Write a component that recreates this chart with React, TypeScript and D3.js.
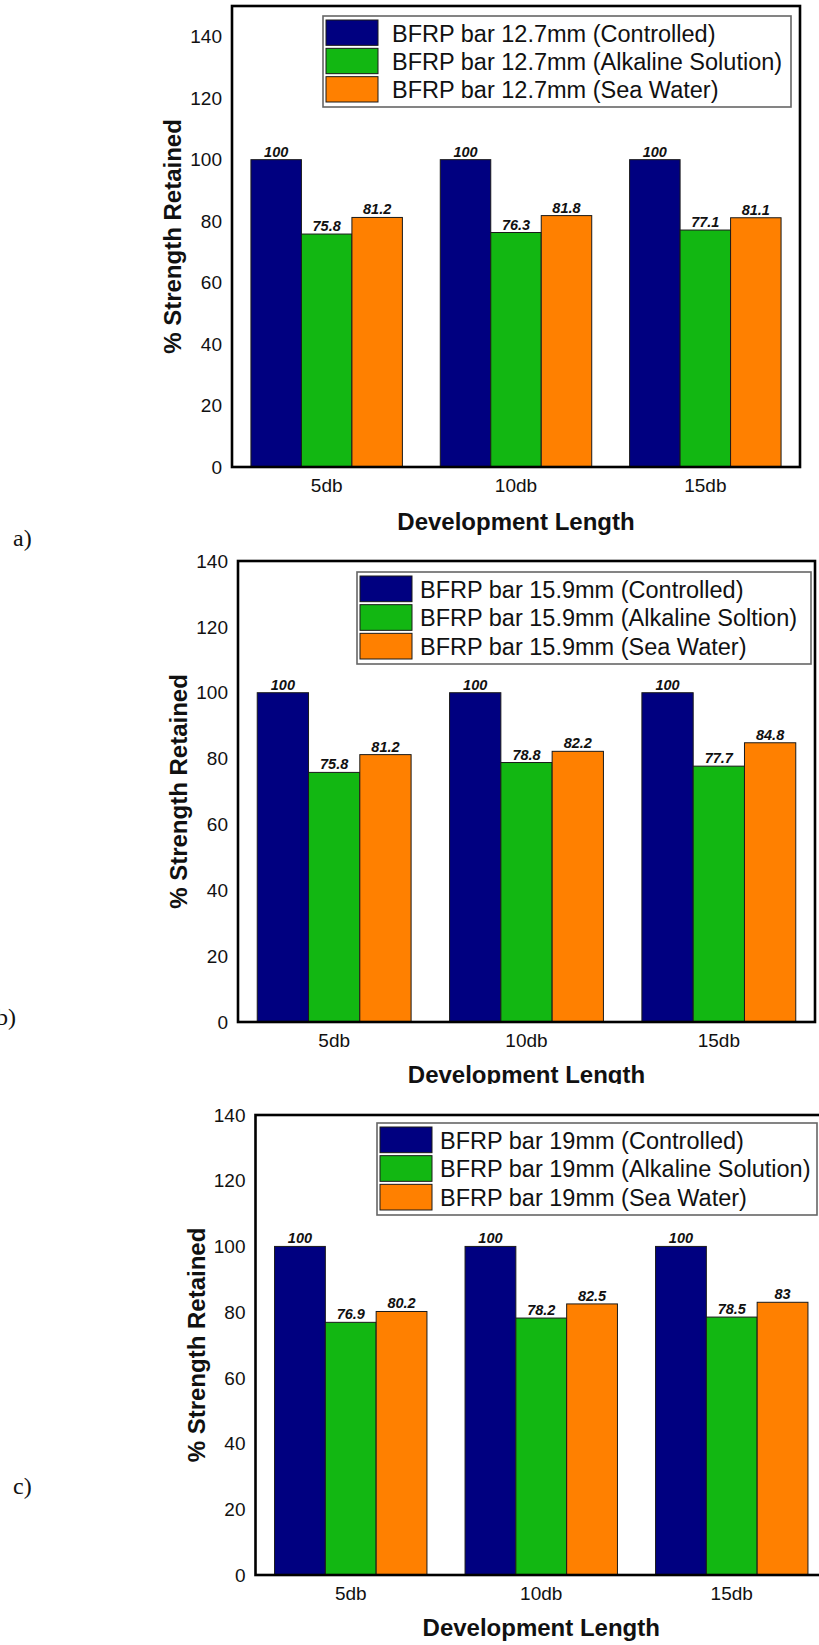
import React from "react";
import * as d3 from "d3";

// Development length groups shared by all three panels
const categories = ["5db", "10db", "15db"];

// Panel a) 12.7 mm bars
const controlledA = [100, 100, 100];
const alkalineA = [75.8, 76.3, 77.1];
const seaA = [81.2, 81.8, 81.1];
const legendA = [
  "BFRP bar 12.7mm (Controlled)",
  "BFRP bar 12.7mm (Alkaline Solution)",
  "BFRP bar 12.7mm (Sea Water)",
];

// Panel b) 15.9 mm bars
const controlledB = [100, 100, 100];
const alkalineB = [75.8, 78.8, 77.7];
const seaB = [81.2, 82.2, 84.8];
const legendB = [
  "BFRP bar 15.9mm (Controlled)",
  "BFRP bar 15.9mm (Alkaline Soltion)",
  "BFRP bar 15.9mm (Sea Water)",
];

// Panel c) 19 mm bars
const controlledC = [100, 100, 100];
const alkalineC = [76.9, 78.2, 78.5];
const seaC = [80.2, 82.5, 83];
const legendC = [
  "BFRP bar 19mm (Controlled)",
  "BFRP bar 19mm (Alkaline Solution)",
  "BFRP bar 19mm (Sea Water)",
];

const yTicks = [0, 20, 40, 60, 80, 100, 120, 140];
const seriesColors = ["#000080", "#12b712", "#ff8000"];

const FONT = "'Liberation Sans', Arial, sans-serif";

type PanelProps = {
  series: number[][];
  legend: string[];
  yMax: number;
  left: number;
  right: number;
  top: number;
  bottom: number;
  legendBox: { x: number; y: number; w: number; h: number; textX: number };
  tag: string;
  tagX: number;
  tagY: number;
  xTitleY: number;
  clipBottom?: number;
};

function Panel(p: PanelProps) {
  const x0 = d3
    .scaleBand<string>()
    .domain(categories)
    .range([p.left, p.right])
    .paddingInner(0.2)
    .paddingOuter(0.1);
  const x1 = d3
    .scaleBand<number>()
    .domain([0, 1, 2])
    .range([0, x0.bandwidth()]);
  const y = d3.scaleLinear().domain([0, p.yMax]).range([p.bottom, p.top]);
  const midX = (p.left + p.right) / 2;
  const midY = (p.top + p.bottom) / 2;
  const rowH = (p.legendBox.h - 6) / 3;
  const clipId = `clip-${p.tag.replace(")", "")}`;

  return (
    <g>
      {/* bars */}
      {categories.map((c, ci) => (
        <g key={c} transform={`translate(${x0(c)},0)`}>
          {p.series.map((vals, si) => {
            const v = vals[ci];
            const bx = x1(si)!;
            return (
              <g key={si}>
                <rect
                  x={bx}
                  y={y(v)}
                  width={x1.bandwidth()}
                  height={y(0) - y(v)}
                  fill={seriesColors[si]}
                  stroke="#1a1a1a"
                  strokeWidth={1}
                />
                <text
                  x={bx + x1.bandwidth() / 2}
                  y={y(v) - 3}
                  textAnchor="middle"
                  fontFamily={FONT}
                  fontWeight="bold"
                  fontStyle="italic"
                  fontSize={14.5}
                  fill="#111"
                >
                  {v}
                </text>
              </g>
            );
          })}
        </g>
      ))}

      {/* frame */}
      <rect
        x={p.left}
        y={p.top}
        width={p.right - p.left}
        height={p.bottom - p.top}
        fill="none"
        stroke="#000"
        strokeWidth={2.6}
      />

      {/* y ticks */}
      {yTicks.map((t) => (
        <text
          key={t}
          x={p.left - 10}
          y={y(t)}
          dy="0.35em"
          textAnchor="end"
          fontFamily={FONT}
          fontSize={19}
          fill="#111"
        >
          {t}
        </text>
      ))}

      {/* x ticks */}
      {categories.map((c) => (
        <text
          key={c}
          x={x0(c)! + x0.bandwidth() / 2}
          y={p.bottom + 18}
          dy="0.35em"
          textAnchor="middle"
          fontFamily={FONT}
          fontSize={19}
          fill="#111"
        >
          {c}
        </text>
      ))}

      {/* axis titles */}
      <text
        transform={`translate(${p.left - 59},${midY}) rotate(-90)`}
        textAnchor="middle"
        dy="0.35em"
        fontFamily={FONT}
        fontWeight="bold"
        fontSize={24}
        fill="#111"
      >
        % Strength Retained
      </text>
      {p.clipBottom !== undefined && (
        <clipPath id={clipId}>
          <rect x={0} y={p.bottom} width={819} height={p.clipBottom - p.bottom} />
        </clipPath>
      )}
      <text
        x={midX}
        y={p.xTitleY}
        textAnchor="middle"
        fontFamily={FONT}
        fontWeight="bold"
        fontSize={24}
        fill="#111"
        clipPath={p.clipBottom !== undefined ? `url(#${clipId})` : undefined}
      >
        Development Length
      </text>

      {/* legend */}
      <rect
        x={p.legendBox.x}
        y={p.legendBox.y}
        width={p.legendBox.w}
        height={p.legendBox.h}
        fill="#fff"
        stroke="#666"
        strokeWidth={1.6}
      />
      {p.legend.map((label, i) => {
        const ry = p.legendBox.y + 3 + i * rowH;
        return (
          <g key={label}>
            <rect
              x={p.legendBox.x + 3}
              y={ry + 1}
              width={52}
              height={rowH - 3}
              fill={seriesColors[i]}
              stroke="#1a1a1a"
              strokeWidth={1}
            />
            <text
              x={p.legendBox.textX}
              y={ry + rowH / 2}
              dy="0.36em"
              fontFamily={FONT}
              fontSize={23.5}
              fill="#111"
            >
              {label}
            </text>
          </g>
        );
      })}

      {/* panel tag */}
      <text
        x={p.tagX}
        y={p.tagY}
        fontFamily="'Liberation Serif', 'Times New Roman', serif"
        fontSize={24}
        fill="#111"
      >
        {p.tag}
      </text>
    </g>
  );
}

export default function App() {
  return (
    <svg
      width={819}
      height={1645}
      style={{ position: "absolute", left: 0, top: 0, background: "#fff" }}
    >
      <rect width={819} height={1645} fill="#fff" />
      <Panel
        series={[controlledA, alkalineA, seaA]}
        legend={legendA}
        yMax={150}
        left={232}
        right={800}
        top={6}
        bottom={467}
        legendBox={{ x: 323, y: 16, w: 468, h: 91, textX: 392 }}
        tag="a)"
        tagX={13}
        tagY={546}
        xTitleY={530}
      />
      <Panel
        series={[controlledB, alkalineB, seaB]}
        legend={legendB}
        yMax={140}
        left={238}
        right={815}
        top={561}
        bottom={1022}
        legendBox={{ x: 357, y: 572, w: 454, h: 92, textX: 420 }}
        tag="b)"
        tagX={-4}
        tagY={1025}
        xTitleY={1083}
        clipBottom={1084}
      />
      <Panel
        series={[controlledC, alkalineC, seaC]}
        legend={legendC}
        yMax={140}
        left={255.5}
        right={827}
        top={1115}
        bottom={1575}
        legendBox={{ x: 377, y: 1123, w: 440, h: 92, textX: 440 }}
        tag="c)"
        tagX={13}
        tagY={1494}
        xTitleY={1636}
      />
    </svg>
  );
}
